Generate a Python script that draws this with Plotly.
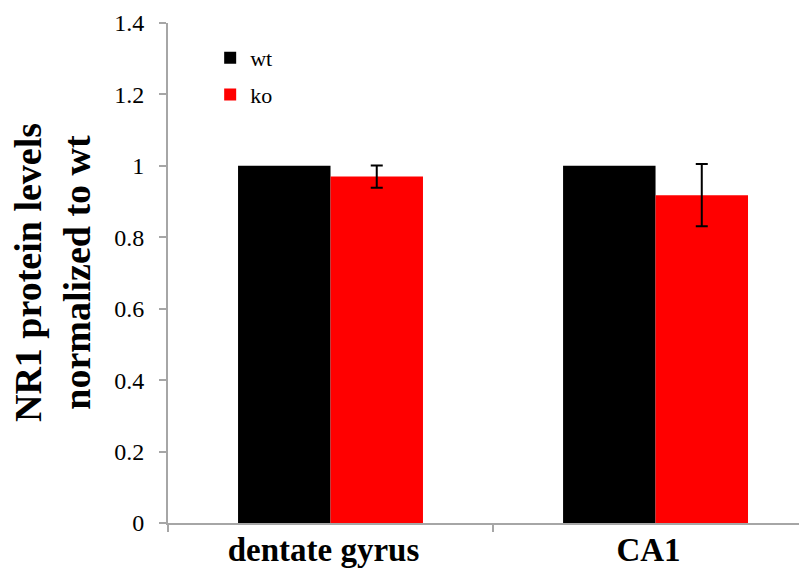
import plotly.graph_objects as go

categories = ["dentate gyrus", "CA1"]
wt_values = [1.0, 1.0]
ko_values = [0.97, 0.918]
ko_errors = [0.031, 0.087]
y_ticks = [0, 0.2, 0.4, 0.6, 0.8, 1, 1.2, 1.4]
y_tick_labels = ["0", "0.2", "0.4", "0.6", "0.8", "1", "1.2", "1.4"]

SERIF = "Liberation Serif"
AXIS_GRAY = "#a6a6a6"

fig = go.Figure()
fig.add_trace(go.Bar(
    x=categories, y=wt_values, name="wt",
    marker=dict(color="#000000", line=dict(width=0)),
    legendgroup="wt",
))
fig.add_trace(go.Bar(
    x=categories, y=ko_values, name="ko",
    marker=dict(color="#ff0000", line=dict(width=0)),
    error_y=dict(type="data", array=ko_errors, visible=True,
                 color="#000000", thickness=2, width=6),
    legendgroup="ko",
))

fig.update_layout(
    width=799, height=561,
    margin=dict(l=160, r=0, t=15, b=46, autoexpand=False),
    paper_bgcolor="white", plot_bgcolor="white",
    barmode="group", bargap=0.431, bargroupgap=0,
    font=dict(family=SERIF, color="#000000"),
    showlegend=True,
    legend=dict(
        x=0.066, y=0.972, xanchor="left", yanchor="top",
        font=dict(family=SERIF, size=22, color="#000000"),
        bgcolor="rgba(0,0,0,0)", borderwidth=0,
        traceorder="grouped", tracegroupgap=5,
    ),
    xaxis=dict(
        type="category", range=[-0.5, 1.466],
        showline=True, linecolor=AXIS_GRAY, linewidth=2,
        ticks="outside", tickson="boundaries", ticklen=7,
        tickcolor=AXIS_GRAY, tickwidth=2,
        ticklabelstandoff=-4, ticklabelshift=-7,
        tickfont=dict(family=SERIF, size=33, weight="bold", color="#000000"),
        showgrid=False, zeroline=False, automargin=False,
    ),
    yaxis=dict(
        range=[0, 1.4],
        tickvals=y_ticks, ticktext=y_tick_labels,
        showline=True, linecolor=AXIS_GRAY, linewidth=2,
        ticks="outside", ticklen=7, tickcolor=AXIS_GRAY, tickwidth=2,
        ticklabelstandoff=10,
        tickfont=dict(family=SERIF, size=24, color="#000000"),
        showgrid=False, zeroline=False, automargin=False,
    ),
    annotations=[dict(
        text="<b>NR1 protein levels<br>normalized to wt</b>",
        xref="paper", yref="paper", x=-0.1815, y=0.5,
        xanchor="center", yanchor="middle", textangle=-90,
        showarrow=False,
        font=dict(family=SERIF, size=38, color="#000000"),
    )],
)

fig.write_html("out.html")
